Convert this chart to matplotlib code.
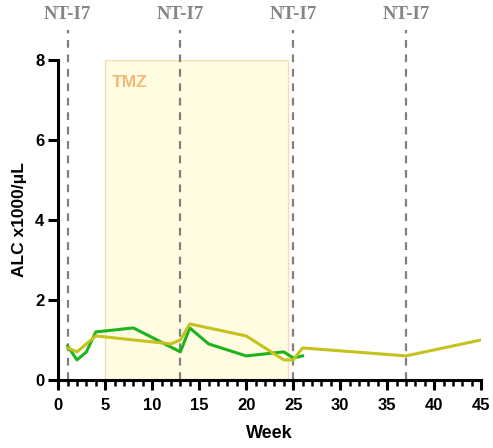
import numpy as np
import matplotlib.pyplot as plt
from matplotlib.ticker import MultipleLocator

# ALC counts per patient line (x1000/uL) against week
green_week = [1, 2, 3, 4, 8, 13, 14, 16, 20, 24, 25, 26]
green_alc = [0.85, 0.5, 0.7, 1.2, 1.3, 0.7, 1.3, 0.9, 0.6, 0.7, 0.55, 0.6]

yellow_week = [1, 2, 4, 12, 13, 14, 20, 24, 25, 26, 37, 45]
yellow_alc = [0.8, 0.7, 1.1, 0.9, 1.0, 1.4, 1.1, 0.5, 0.5, 0.8, 0.6, 1.0]

# NT-I7 dosing weeks and TMZ treatment window
dose_weeks = [1, 13, 25, 37]
dose_label = 'NT-I7'
tmz_start, tmz_end = 5, 24.4
tmz_label = 'TMZ'

plt.rcParams['font.family'] = ['Liberation Sans', 'DejaVu Sans']

fig = plt.figure(figsize=(4.93, 4.48), dpi=100)
ax = fig.add_axes([0.118, 0.152, 0.858, 0.714])

ax.axvspan(tmz_start, tmz_end, ymin=0, ymax=1, facecolor='#fffce2',
           edgecolor='#f8dcb0', linewidth=1, zorder=0)
ax.text(tmz_start + 0.7, 7.45, tmz_label, color='#f4b877', fontsize=12.5,
        fontweight='bold', ha='left', va='center')

for w in dose_weeks:
    ax.plot([w, w], [0, 8.75], color='#808080', linestyle=(0, (3.5, 3)),
            linewidth=1.6, clip_on=False, zorder=1)
    ax.text(w, 9.15, dose_label, color='#858585', fontsize=13.5,
            fontweight='bold', family=['Liberation Serif', 'DejaVu Serif'],
            ha='center', va='center', clip_on=False)

ax.plot(green_week, green_alc, color='#1db31d', linewidth=2.2, zorder=3)
ax.plot(yellow_week, yellow_alc, color='#c4c21c', linewidth=2.2, zorder=3)

ax.set_xlim(0, 45)
ax.set_ylim(0, 8)
ax.xaxis.set_major_locator(MultipleLocator(5))
ax.xaxis.set_minor_locator(MultipleLocator(1))
ax.yaxis.set_major_locator(MultipleLocator(2))

for s in ['top', 'right']:
    ax.spines[s].set_visible(False)
for s in ['left', 'bottom']:
    ax.spines[s].set_linewidth(2.2)

ax.tick_params(axis='both', which='major', width=2.2, length=7,
               labelsize=12)
ax.tick_params(axis='x', which='major', pad=6)
ax.tick_params(axis='y', which='major', pad=3)
ax.tick_params(axis='x', which='minor', width=1.8, length=4)
for lab in ax.get_xticklabels() + ax.get_yticklabels():
    lab.set_fontweight('bold')

ax.set_xlabel('Week', fontsize=13, fontweight='bold', labelpad=9)
ax.set_ylabel('ALC x1000/μL', fontsize=12.5, fontweight='bold', labelpad=6)

fig.savefig('out.png', dpi=100)
